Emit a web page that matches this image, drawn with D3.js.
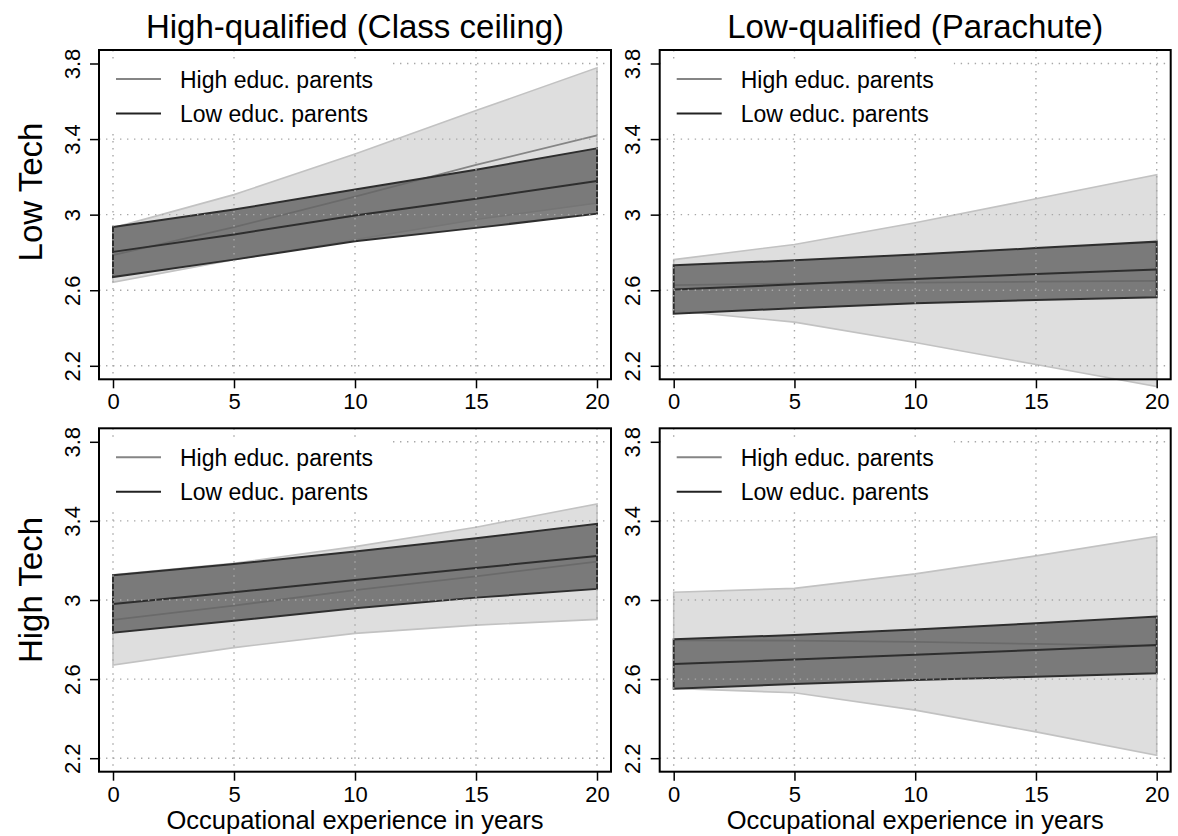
<!DOCTYPE html>
<html>
<head>
<meta charset="utf-8">
<script src="https://cdn.jsdelivr.net/npm/d3@7"></script>
<style>
  body { margin: 0; background: #fff; }
  text { font-family: "Liberation Sans", Arial, sans-serif; fill: #000; }
</style>
</head>
<body>
<div id="chart"></div>
<script>
// experience years where predictions were taken
const years = [0, 5, 10, 15, 20];
const yTicks = [2.2, 2.6, 3, 3.4, 3.8];
const colTitles = ["High-qualified (Class ceiling)", "Low-qualified (Parachute)"];
const rowTitles = ["Low Tech", "High Tech"];
const legendLabels = ["High educ. parents", "Low educ. parents"];
const xTitle = "Occupational experience in years";

// Low Tech / High-qualified
const ltHqHighUpper = [2.930, 3.106, 3.321, 3.551, 3.777];
const ltHqHighLower = [2.642, 2.762, 2.868, 2.974, 3.062];
const ltHqHighFit   = [2.786, 2.934, 3.095, 3.263, 3.420];
const ltHqLowUpper  = [2.935, 3.027, 3.133, 3.238, 3.351];
const ltHqLowLower  = [2.670, 2.762, 2.859, 2.930, 3.005];
const ltHqLowFit    = [2.803, 2.895, 2.996, 3.084, 3.178];

// Low Tech / Low-qualified
const ltLqHighUpper = [2.762, 2.842, 2.957, 3.084, 3.211];
const ltLqHighLower = [2.493, 2.431, 2.323, 2.207, 2.090];
const ltLqHighFit   = [2.627, 2.636, 2.640, 2.645, 2.650];
const ltLqLowUpper  = [2.732, 2.758, 2.789, 2.823, 2.857];
const ltLqLowLower  = [2.476, 2.505, 2.531, 2.548, 2.563];
const ltLqLowFit    = [2.604, 2.631, 2.660, 2.686, 2.710];

// High Tech / High-qualified
const htHqHighUpper = [3.127, 3.186, 3.270, 3.368, 3.486];
const htHqHighLower = [2.671, 2.759, 2.831, 2.873, 2.902];
const htHqHighFit   = [2.899, 2.972, 3.050, 3.120, 3.194];
const htHqLowUpper  = [3.125, 3.182, 3.245, 3.312, 3.385];
const htHqLowLower  = [2.835, 2.895, 2.958, 3.012, 3.056];
const htHqLowFit    = [2.980, 3.039, 3.101, 3.162, 3.222];

// High Tech / Low-qualified
const htLqHighUpper = [3.039, 3.059, 3.132, 3.223, 3.321];
const htLqHighLower = [2.553, 2.531, 2.443, 2.333, 2.215];
const htLqHighFit   = [2.796, 2.795, 2.788, 2.778, 2.768];
const htLqLowUpper  = [2.801, 2.823, 2.851, 2.882, 2.916];
const htLqLowLower  = [2.551, 2.575, 2.595, 2.612, 2.629];
const htLqLowFit    = [2.676, 2.699, 2.723, 2.747, 2.772];

let width = 1178, height = 836;

let svg = d3.select("#chart")
    .append("svg")
    .attr("width", width)
    .attr("height", height);

// plot boxes (left, right, top, bottom)
let cols = [[99, 611], [659.7, 1170.7]];
let rows = [[50, 379.3], [428.3, 771.7]];

let panels = [
    {row: 0, col: 0, hu: ltHqHighUpper, hl: ltHqHighLower, hf: ltHqHighFit, lu: ltHqLowUpper, ll: ltHqLowLower, lf: ltHqLowFit},
    {row: 0, col: 1, hu: ltLqHighUpper, hl: ltLqHighLower, hf: ltLqHighFit, lu: ltLqLowUpper, ll: ltLqLowLower, lf: ltLqLowFit},
    {row: 1, col: 0, hu: htHqHighUpper, hl: htHqHighLower, hf: htHqHighFit, lu: htHqLowUpper, ll: htHqLowLower, lf: htHqLowFit},
    {row: 1, col: 1, hu: htLqHighUpper, hl: htLqHighLower, hf: htLqHighFit, lu: htLqLowUpper, ll: htLqLowLower, lf: htLqLowFit}
];

function drawPanel(p) {
    let left = cols[p.col][0], right = cols[p.col][1];
    let top = rows[p.row][0], bottom = rows[p.row][1];

    let x = d3.scaleLinear().domain([0, 20]).range([left + 14, right - 14]);
    let y = d3.scaleLinear().domain([2.2, 3.8]).range([bottom - 13.5, top + 13.5]);

    let g = svg.append("g");

    let band = d3.area()
        .x((d, i) => x(years[i]))
        .y0(d => y(d[0]))
        .y1(d => y(d[1]));
    let line = d3.line()
        .x((d, i) => x(years[i]))
        .y(d => y(d));

    // high educ. parents: light band + grey line
    g.append("path")
        .attr("d", band(d3.zip(p.hl, p.hu)))
        .attr("fill", "#dedede")
        .attr("stroke", "#c2c2c2")
        .attr("stroke-width", 1.6);
    g.append("path")
        .attr("d", line(p.hf))
        .attr("fill", "none")
        .attr("stroke", "#858585")
        .attr("stroke-width", 1.8);

    // low educ. parents: dark band + dark line
    g.append("path")
        .attr("d", band(d3.zip(p.ll, p.lu)))
        .attr("fill", "rgba(100,100,100,0.82)")
        .attr("stroke", "#2e2e2e")
        .attr("stroke-width", 2);
    g.append("path")
        .attr("d", line(p.lf))
        .attr("fill", "none")
        .attr("stroke", "#2e2e2e")
        .attr("stroke-width", 2);

    // dotted grid on top
    g.selectAll(".vgrid").data(years).enter().append("line")
        .attr("x1", d => x(d)).attr("x2", d => x(d))
        .attr("y1", top).attr("y2", bottom)
        .attr("stroke", "#a8a8a8").attr("stroke-width", 1.4)
        .attr("stroke-dasharray", "1.4,5.6");
    g.selectAll(".hgrid").data(yTicks).enter().append("line")
        .attr("x1", left).attr("x2", right)
        .attr("y1", d => y(d)).attr("y2", d => y(d))
        .attr("stroke", "#a8a8a8").attr("stroke-width", 1.4)
        .attr("stroke-dasharray", "1.4,5.6");

    // legend with white background
    let lx = x(0);
    g.append("rect")
        .attr("x", left + 1).attr("y", top + 12)
        .attr("width", lx + 280 - left - 1).attr("height", 67)
        .attr("fill", "#fff");
    let legColors = ["#858585", "#222"];
    legendLabels.forEach((lab, i) => {
        let ly = top + 29 + i * 34.5;
        g.append("line")
            .attr("x1", lx + 3).attr("x2", lx + 48)
            .attr("y1", ly).attr("y2", ly)
            .attr("stroke", legColors[i]).attr("stroke-width", 2);
        g.append("text")
            .attr("x", lx + 67).attr("y", ly + 8.5)
            .style("font-size", "23px")
            .text(lab);
    });

    // axes
    let xAxis = g.append("g")
        .attr("transform", "translate(0," + bottom + ")")
        .call(d3.axisBottom(x).tickValues(years).tickSize(9).tickFormat(d => d));
    xAxis.select(".domain").remove();
    xAxis.selectAll("line").attr("stroke", "#000").attr("stroke-width", 1.5);
    xAxis.selectAll("text")
        .attr("y", 30).attr("dy", null)
        .attr("fill", "#000")
        .style("font-size", "22px")
        .style("font-family", "'Liberation Sans', Arial, sans-serif");

    let yAxis = g.append("g")
        .attr("transform", "translate(" + left + ",0)")
        .call(d3.axisLeft(y).tickValues(yTicks).tickSize(9).tickFormat(d => String(d)));
    yAxis.select(".domain").remove();
    yAxis.selectAll("line").attr("stroke", "#000").attr("stroke-width", 1.5);
    yAxis.selectAll("text")
        .attr("x", null).attr("dy", null)
        .attr("text-anchor", "middle")
        .attr("transform", "translate(-19.5,0) rotate(-90)")
        .attr("fill", "#000")
        .style("font-size", "22px")
        .style("font-family", "'Liberation Sans', Arial, sans-serif");

    // box
    g.append("rect")
        .attr("x", left).attr("y", top)
        .attr("width", right - left).attr("height", bottom - top)
        .attr("fill", "none")
        .attr("stroke", "#000")
        .attr("stroke-width", 2);

    // column titles and x title
    let cx = (left + right) / 2;
    if (p.row == 0) {
        svg.append("text")
            .attr("x", cx).attr("y", 38)
            .attr("text-anchor", "middle")
            .style("font-size", "33px")
            .text(colTitles[p.col]);
    } else {
        svg.append("text")
            .attr("x", cx).attr("y", 829)
            .attr("text-anchor", "middle")
            .style("font-size", "25.5px")
            .text(xTitle);
    }
}

panels.forEach(drawPanel);

// row labels
let rowCenters = [192, 590];
rowTitles.forEach((t, i) => {
    svg.append("text")
        .attr("transform", "translate(42," + rowCenters[i] + ") rotate(-90)")
        .attr("text-anchor", "middle")
        .style("font-size", "33px")
        .text(t);
});
</script>
</body>
</html>
